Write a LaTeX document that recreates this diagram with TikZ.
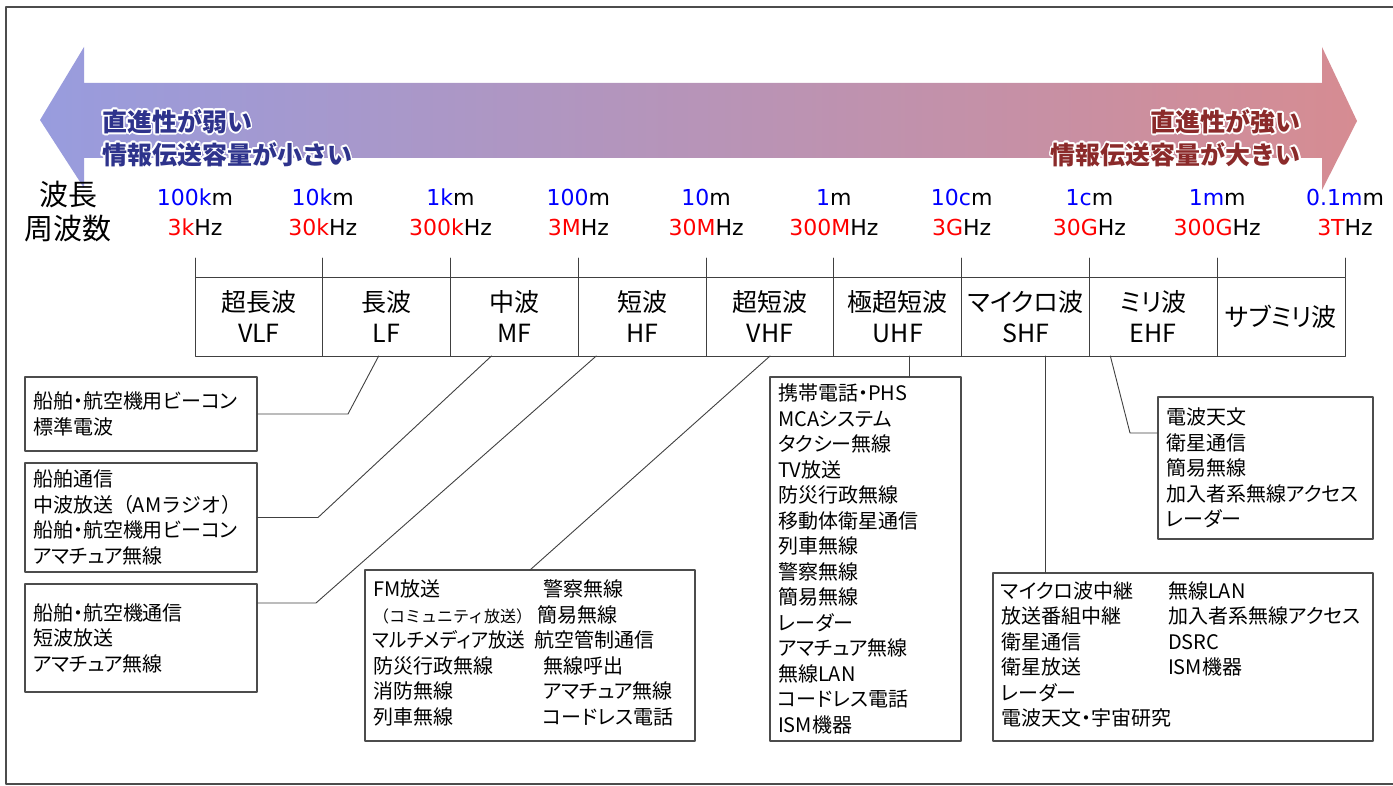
\documentclass[tikz,border=0pt]{standalone}
\usepackage{fontspec}
\usepackage{xcolor}
\usepackage[copies]{contour}
\usepackage{tikz}
\usetikzlibrary{positioning}
\setmainfont{DejaVu Sans}
\newfontfamily\jp{Noto Sans CJK JP}[RawFeature=+palt]
\newfontfamily\jpw{Noto Sans CJK JP}
\contourlength{1.6pt}
\contournumber{16}

\definecolor{frecciasx}{RGB}{152,156,222}
\definecolor{frecciamid}{RGB}{183,156,192}
\definecolor{frecciadx}{RGB}{214,140,146}
\definecolor{blusc}{RGB}{46,51,140}
\definecolor{rossosc}{RGB}{139,42,42}

\begin{document}
\begin{tikzpicture}[
    x=1pt,
    y=-1pt,
    line cap=round,
    line join=round,
    cella/.style={draw=black!75, line width=0.9pt, minimum width=127.78pt,
        minimum height=79pt, inner sep=0pt, outer sep=0pt, align=center,
        font=\jp\fontsize{25}{31}\selectfont},
    boxinfo/.style={draw=black!70, line width=1.1pt, inner xsep=8pt,
        inner ysep=0pt, outer sep=0pt, align=left, anchor=north west,
        font=\jp\fontsize{20}{25.5}\selectfont},
    filo/.style={black!75, line width=0.9pt},
    etich/.style={font=\fontsize{22}{26}\selectfont, inner sep=0pt, anchor=base},
    titolo/.style={inner sep=0pt, font=\jpw\bfseries\fontsize{25}{33}\selectfont}
]

\useasboundingbox (0,0) rectangle (1393,786);

% Cornice
\draw[black!70, line width=1.6pt] (1400,7) -- (6,7) -- (6,784) -- (1400,784);

% Freccia
\shade[left color=frecciasx, middle color=frecciamid, right color=frecciadx]
    (40,120) -- (84,47) -- (84,83) -- (1322,83) -- (1322,47) -- (1357,121)
    -- (1322,190) -- (1322,158) -- (84,158) -- (84,188) -- cycle;

\node[titolo, anchor=west, align=left, text=blusc] (debole) at (102,139)
    {\contour{white}{直進性が弱い}\\\contour{white}{情報伝送容量が小さい}};
\node[titolo, anchor=east, align=right, text=rossosc] (forte) at (1301,139)
    {\contour{white}{直進性が強い}\\\contour{white}{情報伝送容量が大きい}};

% Titoli
\node[font=\jpw\fontsize{29}{35}\selectfont] (lunghezza) at (68,195) {波長};
\node[font=\jpw\fontsize{29}{35}\selectfont] (frequenza) at (68,229) {周波数};

% Lunghezze d'onda e frequenze
\foreach \x/\lw/\fr [count=\i] in {
    195.00/{\textcolor{blue}{100k}m}/{\textcolor{red}{3k}Hz},
    322.78/{\textcolor{blue}{10k}m}/{\textcolor{red}{30k}Hz},
    450.56/{\textcolor{blue}{1k}m}/{\textcolor{red}{300k}Hz},
    578.33/{\textcolor{blue}{100}m}/{\textcolor{red}{3M}Hz},
    706.11/{\textcolor{blue}{10}m}/{\textcolor{red}{30M}Hz},
    833.89/{\textcolor{blue}{1}m}/{\textcolor{red}{300M}Hz},
    961.67/{\textcolor{blue}{10c}m}/{\textcolor{red}{3G}Hz},
    1089.44/{\textcolor{blue}{1c}m}/{\textcolor{red}{30G}Hz},
    1217.22/{\textcolor{blue}{1m}m}/{\textcolor{red}{300G}Hz},
    1345.00/{\textcolor{blue}{0.1m}m}/{\textcolor{red}{3T}Hz}} {
    \node[etich] (lw\i) at (\x,206) {\lw};
    \node[etich] (fr\i) at (\x,236) {\fr};
}

% Tabella delle bande
\node[cella, anchor=north west] (vlf) at (195,277) {超長波\\VLF};
\node[cella, right=0pt of vlf] (lf) {長波\\LF};
\node[cella, right=0pt of lf] (mf) {中波\\MF};
\node[cella, right=0pt of mf] (hf) {短波\\HF};
\node[cella, right=0pt of hf] (vhf) {超短波\\VHF};
\node[cella, right=0pt of vhf] (uhf) {極超短波\\UHF};
\node[cella, right=0pt of uhf] (shf) {マイクロ波\\SHF};
\node[cella, right=0pt of shf] (ehf) {ミリ波\\EHF};
\node[cella, right=0pt of ehf] (submm) {サブミリ波};

\foreach \c in {vlf,lf,mf,hf,vhf,uhf,shf,ehf,submm}
    \draw[filo] (\c.north west) -- ++(0,-19);
\draw[filo] (submm.north east) -- ++(0,-19);

% Riquadri degli usi
\node[boxinfo, text width=216pt, minimum height=74pt] (lfbox) at (25,377)
    {船舶・航空機用ビーコン\\標準電波};
\node[boxinfo, text width=216pt, minimum height=109pt] (mfbox) at (25,463)
    {船舶通信\\{\jpw 中波放送（AMラジオ）}\\船舶・航空機用ビーコン\\アマチュア無線};
\node[boxinfo, text width=216pt, minimum height=108pt] (hfbox) at (25,584)
    {船舶・航空機通信\\短波放送\\アマチュア無線};
\node[boxinfo, text width=314pt, minimum height=171pt] (vhfbox) at (365,570)
    {\begin{tabular}{@{}p{170pt}@{}l@{}}
    FM放送 & 警察無線\\
    {\jpw\fontsize{16}{25.5}\selectfont （コミュニティ放送）} & \hspace*{-6pt}簡易無線\\
    \scalebox{0.93}[1]{マルチメディア放送} & \hspace*{-9pt}航空管制通信\\
    防災行政無線 & 無線呼出\\
    消防無線 & アマチュア無線\\
    列車無線 & コードレス電話
    \end{tabular}};
\node[boxinfo, text width=175pt, minimum height=364pt] (uhfbox) at (770,377)
    {携帯電話・PHS\\MCAシステム\\タクシー無線\\TV放送\\防災行政無線\\
    移動体衛星通信\\列車無線\\警察無線\\簡易無線\\レーダー\\アマチュア無線\\
    無線LAN\\コードレス電話\\ISM機器};
\node[boxinfo, text width=364pt, minimum height=168pt] (shfbox) at (993,573)
    {\begin{tabular}{@{}p{167pt}@{}l@{}}
    マイクロ波中継 & 無線LAN\\
    放送番組中継 & 加入者系無線アクセス\\
    衛星通信 & DSRC\\
    衛星放送 & ISM機器\\
    レーダー & \\
    電波天文・宇宙研究 &
    \end{tabular}};
\node[boxinfo, text width=199pt, minimum height=142pt] (ehfbox) at (1158,397)
    {電波天文\\衛星通信\\簡易無線\\加入者系無線アクセス\\レーダー};

% Collegamenti
\draw[filo] ([xshift=-8pt]lf.south) -- ([xshift=91pt]lfbox.east) -- (lfbox.east);
\draw[filo] ([xshift=-23pt]mf.south) -- ([xshift=61pt]mfbox.east) -- (mfbox.east);
\draw[filo] ([xshift=-46pt]hf.south) -- ([xshift=59pt,yshift=35pt]hfbox.east)
    -- ([yshift=35pt]hfbox.east);
\draw[filo] (vhf.south) -- (vhfbox.north);
\draw[filo] ([xshift=12pt]uhf.south) -- ([xshift=12pt]uhf.south |- uhfbox.north);
\draw[filo] ([xshift=20pt]shf.south) -- ([xshift=20pt]shf.south |- shfbox.north);
\draw[filo] ([xshift=-43pt]ehf.south) -- ([xshift=-28pt,yshift=35pt]ehfbox.west)
    -- ([yshift=35pt]ehfbox.west);

\end{tikzpicture}
\end{document}
